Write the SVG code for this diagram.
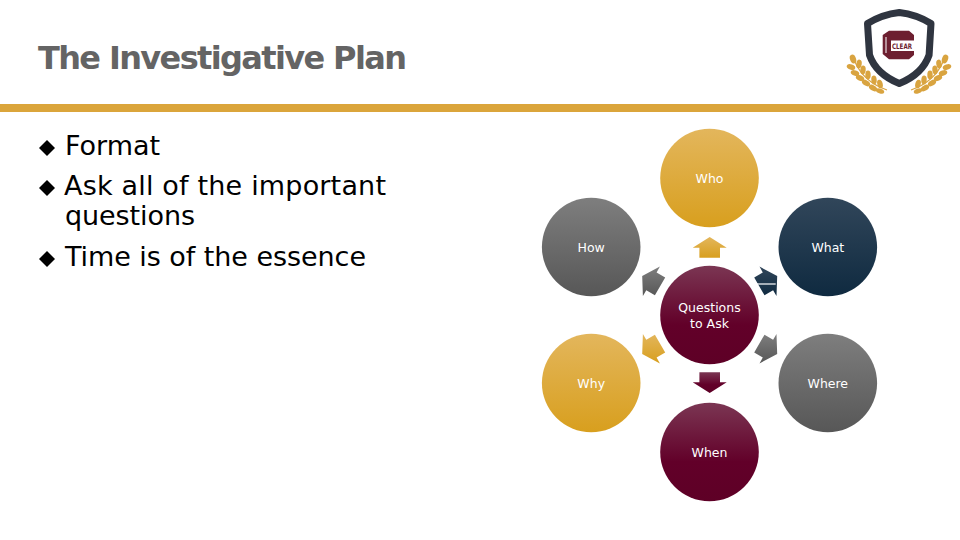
<svg xmlns="http://www.w3.org/2000/svg" width="960" height="540" viewBox="0 0 960 540">
<style>
.t{font-family:"DejaVu Sans","Liberation Sans",sans-serif}
.b{font-size:27px;fill:#000}
.l{font-size:12.5px;fill:#fff;text-anchor:middle}
.leaf{fill:#d9a440}
</style>
<defs>
<linearGradient id="gold" x1="0" y1="0" x2="0" y2="1"><stop offset="0" stop-color="#e3b65c"/><stop offset="1" stop-color="#d89f1e"/></linearGradient>
<linearGradient id="grey" x1="0" y1="0" x2="0" y2="1"><stop offset="0" stop-color="#7e7e7e"/><stop offset="1" stop-color="#575757"/></linearGradient>
<linearGradient id="navy" x1="0" y1="0" x2="0" y2="1"><stop offset="0" stop-color="#31465a"/><stop offset="1" stop-color="#0f2a40"/></linearGradient>
<linearGradient id="maroon" x1="0" y1="0" x2="0" y2="1"><stop offset="0" stop-color="#7b3653"/><stop offset="0.6" stop-color="#620029"/><stop offset="1" stop-color="#5e0026"/></linearGradient>
<g id="wheat">
<ellipse class="leaf" cx="853" cy="59" rx="3" ry="4.6" transform="rotate(-20 853 59)"/>
<ellipse class="leaf" cx="851" cy="67" rx="2.700" ry="4.400" transform="rotate(-70 851 67)"/>
<ellipse class="leaf" cx="859" cy="64" rx="2.700" ry="4.400" transform="rotate(10 859 64)"/>
<ellipse class="leaf" cx="855" cy="73" rx="2.700" ry="4.400" transform="rotate(-70 855 73)"/>
<ellipse class="leaf" cx="863" cy="70" rx="2.700" ry="4.400" transform="rotate(5 863 70)"/>
<ellipse class="leaf" cx="860" cy="78" rx="2.700" ry="4.400" transform="rotate(-65 860 78)"/>
<ellipse class="leaf" cx="868" cy="75" rx="2.700" ry="4.400" transform="rotate(0 868 75)"/>
<ellipse class="leaf" cx="866" cy="83" rx="2.700" ry="4.400" transform="rotate(-60 866 83)"/>
<ellipse class="leaf" cx="874" cy="80" rx="2.700" ry="4.400" transform="rotate(-5 874 80)"/>
<ellipse class="leaf" cx="873" cy="88" rx="2.700" ry="4.400" transform="rotate(-60 873 88)"/>
<ellipse class="leaf" cx="880" cy="84" rx="2.700" ry="4.400" transform="rotate(-15 880 84)"/>
<ellipse class="leaf" cx="880" cy="91" rx="2.400" ry="4.400" transform="rotate(-70 880 91)"/>
<path d="M855 62Q864 82 887 90" fill="none" stroke="#d9a440" stroke-width="1.200"/>
</g>
</defs>
<rect width="960" height="540" fill="#fff"/>

<text class="t" x="38" y="69" font-size="32" font-weight="700" fill="#646464" textLength="369" lengthAdjust="spacing">The Investigative Plan</text>
<rect x="0" y="104" width="960" height="8" fill="#dba53b"/>

<g id="logo">
<path d="M899.300 12.500Q882 14.500 867.500 23.500L869.500 55Q876 74 899.300 83.500Q922.600 74 929.100 55L931 23.500Q916.600 14.500 899.300 12.500Z" fill="#fff" stroke="#2f3540" stroke-width="7" stroke-linejoin="round"/>
<path d="M889 30.700H909L914 35V40.500H891V51H914V55L909 59.300H889L882.700 54V35Z" fill="#6d1f30"/>
<rect x="885.500" y="37" width="1" height="16" fill="#fff"/>
<text class="t" x="892" y="49" font-size="7.500" font-weight="700" fill="#6d1f30" textLength="20" lengthAdjust="spacingAndGlyphs">CLEAR</text>
<use href="#wheat"/>
<use href="#wheat" transform="translate(1798 0) scale(-1 1)"/>
</g>

<g id="bullets">
<polygon points="47,140 55,148 47,156 39,148" fill="#000"/>
<polygon points="47,180 55,188 47,196 39,188" fill="#000"/>
<polygon points="47,251 55,259 47,267 39,259" fill="#000"/>
<text class="t b" x="65" y="155" textLength="95" lengthAdjust="spacing">Format</text>
<text class="t b" x="64" y="195" textLength="322" lengthAdjust="spacing">Ask all of the important</text>
<text class="t b" x="65" y="225" textLength="130" lengthAdjust="spacing">questions</text>
<text class="t b" x="65" y="266" textLength="301" lengthAdjust="spacing">Time is of the essence</text>
</g>

<g id="connectors" transform="translate(709.7 315)">
<polygon fill="url(#gold)" points="0,-78 17,-67.300 10.300,-67.300 10.300,-57.300 -10.300,-57.300 -10.300,-67.300 -17,-67.300"/>
<polygon fill="url(#navy)" points="67.500,-39 66.800,-18.900 63.400,-24.700 54.800,-19.700 44.500,-37.600 53.100,-42.600 49.800,-48.400"/>
<line x1="46" y1="-31" x2="66" y2="-31" stroke="#fff" stroke-width="1.200"/>
<polygon fill="url(#grey)" points="67.500,39 49.800,48.400 53.100,42.600 44.500,37.600 54.800,19.700 63.400,24.700 66.800,18.900"/>
<polygon fill="url(#maroon)" points="0,78 -17,67.300 -10.300,67.300 -10.300,57.300 10.300,57.300 10.300,67.300 17,67.300"/>
<polygon fill="url(#gold)" points="-67.500,39 -66.800,18.900 -63.400,24.700 -54.800,19.700 -44.500,37.600 -53.100,42.600 -49.800,48.400"/>
<polygon fill="url(#grey)" points="-67.500,-39 -49.800,-48.400 -53.100,-42.600 -44.500,-37.600 -54.800,-19.700 -63.400,-24.700 -66.800,-18.900"/>
</g>

<g id="center"><circle cx="709.500" cy="315" r="49.300" fill="url(#maroon)"/>
<text class="t l" x="709.500" y="312">Questions</text><text class="t l" x="709.500" y="328">to Ask</text></g>
<g id="who"><circle cx="709.500" cy="178" r="49.300" fill="url(#gold)"/><text class="t l" x="709.500" y="183">Who</text></g>
<g id="what"><circle cx="827.800" cy="247" r="49.300" fill="url(#navy)"/><text class="t l" x="827.800" y="252">What</text></g>
<g id="where"><circle cx="827.800" cy="383" r="49.300" fill="url(#grey)"/><text class="t l" x="827.800" y="388">Where</text></g>
<g id="when"><circle cx="709.500" cy="452" r="49.300" fill="url(#maroon)"/><text class="t l" x="709.500" y="457">When</text></g>
<g id="why"><circle cx="591.200" cy="383" r="49.300" fill="url(#gold)"/><text class="t l" x="591.200" y="388">Why</text></g>
<g id="how"><circle cx="591.200" cy="247" r="49.300" fill="url(#grey)"/><text class="t l" x="591.200" y="252">How</text></g>
</svg>
